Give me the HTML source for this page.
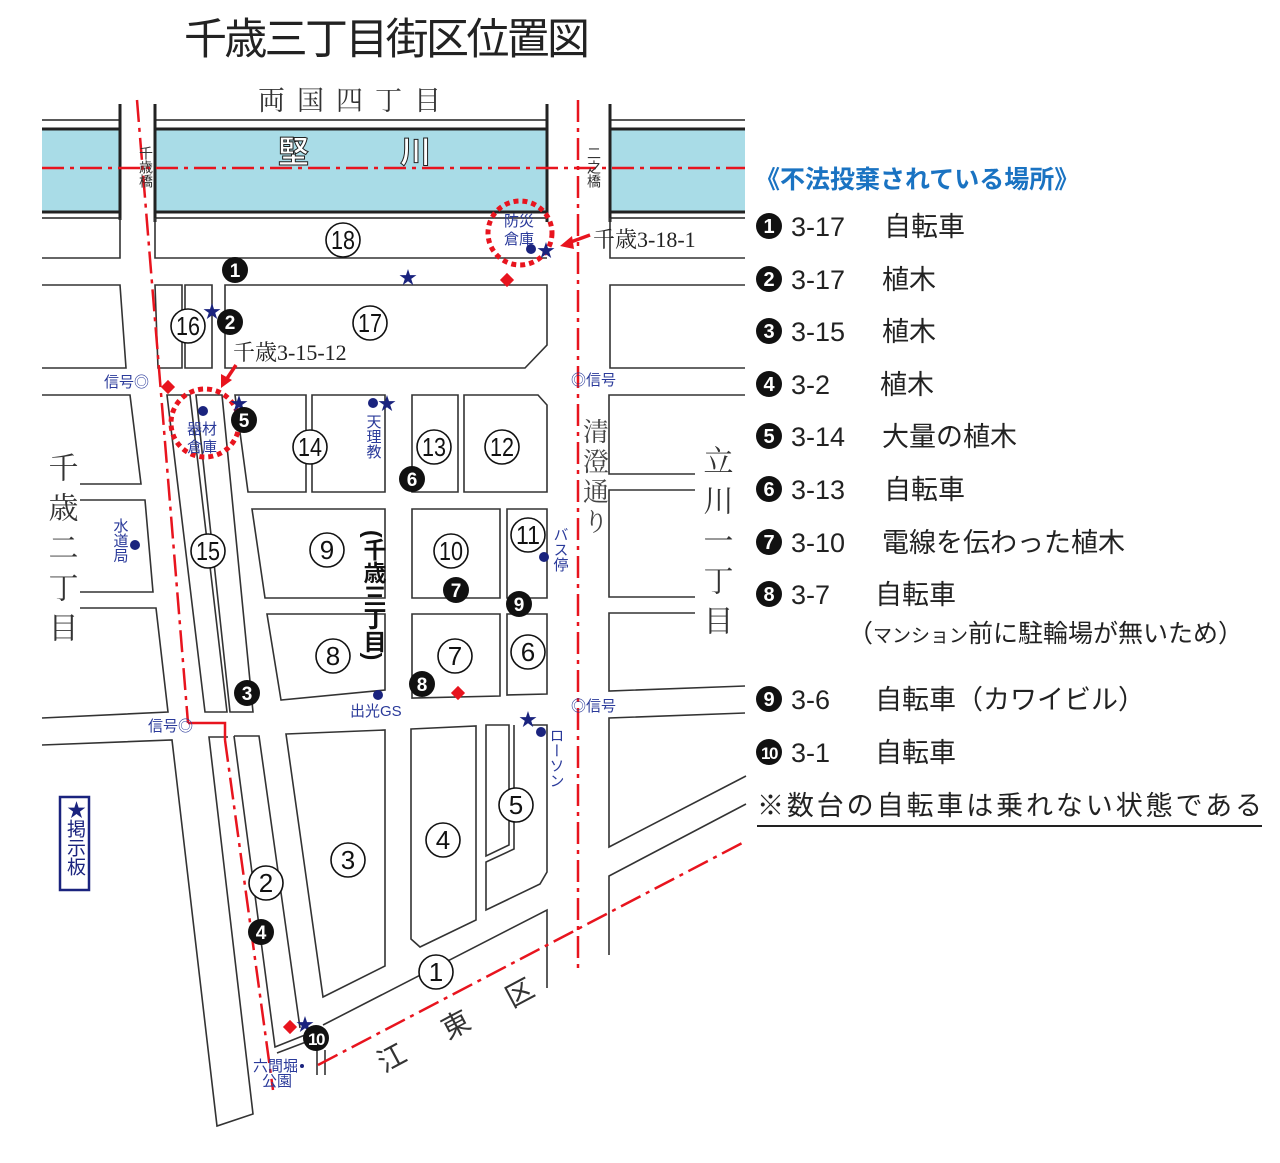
<!DOCTYPE html>
<html><head><meta charset="utf-8"><style>
html,body{margin:0;padding:0;background:#fff;}
svg{display:block;}
text{font-family:"Liberation Sans","Noto Sans CJK JP",sans-serif;}
.serif{font-family:"Liberation Serif","Noto Serif CJK SC",serif;}
.bl{fill:#2a3a9a;}
</style></head><body>
<svg width="1280" height="1163" viewBox="0 0 1280 1163" xmlns="http://www.w3.org/2000/svg">
<text x="184" y="54" font-size="43" fill="#222" textLength="406">千歳三丁目街区位置図</text>
<text x="258" y="110" font-size="27" fill="#333" class="serif" letter-spacing="12">両国四丁目</text>

<rect x="42" y="129" width="78" height="83" fill="#a9dce7"/>
<rect x="155" y="129" width="392" height="83" fill="#a9dce7"/>
<rect x="610" y="129" width="135" height="83" fill="#a9dce7"/>
<g stroke="#222" fill="none">
<g stroke-width="1.5">
<line x1="42" y1="120" x2="120" y2="120"/><line x1="155" y1="120" x2="547" y2="120"/><line x1="610" y1="120" x2="745" y2="120"/>
<line x1="42" y1="218" x2="120" y2="218"/><line x1="155" y1="218" x2="547" y2="218"/><line x1="610" y1="218" x2="745" y2="218"/>
</g>
<g stroke-width="3">
<line x1="42" y1="129" x2="120" y2="129"/><line x1="155" y1="129" x2="547" y2="129"/><line x1="610" y1="129" x2="745" y2="129"/>
<line x1="42" y1="212" x2="120" y2="212"/><line x1="155" y1="212" x2="547" y2="212"/><line x1="610" y1="212" x2="745" y2="212"/>
<line x1="120" y1="104" x2="120" y2="220"/><line x1="155" y1="104" x2="155" y2="222"/><line x1="547" y1="104" x2="547" y2="222"/><line x1="610" y1="104" x2="610" y2="222"/>
</g>
<g stroke-width="1.6" stroke="#333">
<polyline points="42,258 120,258 120,218"/>
<polyline points="155,218 155,258 547,258"/>
<polyline points="745,258 610,258 610,218"/>
<polyline points="42,285 120,285 126,368 42,368"/>
<polygon points="155,285 182,285 182,368 158,368"/>
<polygon points="185,285 212,285 212,368 185,368"/>
<polygon points="225,285 547,285 547,345 525,368 225,368"/>
<polyline points="745,285 610,285 610,368 745,368"/>
<polyline points="42,395 130,395 141,484 80,484"/>
<polyline points="80,500 145,500 153,592 80,592"/>
<polyline points="80,608 156,608 168,712 42,718"/>
<polygon points="167,395 190,395 227,712 205,712"/>
<polygon points="196,395 222,395 253,712 230,712"/>
<polygon points="235,395 306,395 306,492 248,492"/>
<polygon points="312,395 385,395 385,492 312,492"/>
<polygon points="412,395 458,395 458,492 412,492"/>
<polygon points="464,395 538,395 547,405 547,492 464,492"/>
<polyline points="745,395 609,395 609,474 695,474"/>
<polyline points="695,490 609,490 609,597 695,597"/>
<polyline points="695,613 609,613 609,691 745,686"/>
<polyline points="609,730 609,718 745,713"/>
<polygon points="252,509 385,509 385,598 265,598"/>
<polygon points="412,509 500,509 500,598 412,598"/>
<polygon points="507,509 547,509 547,598 507,598"/>
<polygon points="267,614 385,614 385,690 281,700"/>
<polygon points="412,614 500,614 500,696 412,698"/>
<polygon points="507,614 547,614 547,694 507,695"/>
<polyline points="42,745 172,740 217,1126 253,1114 209,737 228,737"/>
<polyline points="234,736 259,736 300,1028"/>
<polyline points="234,736 275,1047 305,1035"/>
<line x1="277" y1="1053" x2="306" y2="1042"/>
<polygon points="286,734 385,730 385,966 323,997"/>
<polygon points="411,729 476,726 476,920 420,947 411,939"/>
<polygon points="486,725 509,725 509,845 486,856"/>
<polyline points="514,725 514,849 486,862 486,910 540,884 547,872 547,725 532,725"/>
<polyline points="323,1025 547,910 547,988"/>
<line x1="317" y1="1050" x2="317" y2="1075"/><line x1="325" y1="1050" x2="325" y2="1075"/>
<polyline points="609,730 609,847 746,776"/>
<polyline points="609,955 609,876 746,804"/>
</g>
</g>

<g stroke="#e8141e" stroke-width="2.5" fill="none" stroke-dasharray="22,6,4,6">
<line x1="42" y1="168" x2="745" y2="168"/>
<polyline points="137,100 188,723"/>
<line x1="578" y1="100" x2="578" y2="972"/>
<polyline points="225,740 273,1090"/>
<line x1="318" y1="1065" x2="746" y2="841"/>
</g>
<polyline points="188,723 225,723 225,740" stroke="#e8141e" stroke-width="2.5" fill="none"/>

<text x="278" y="163" font-size="31" font-weight="bold" fill="#fff" stroke="#222" stroke-width="1">堅</text>
<text x="400" y="163" font-size="31" font-weight="bold" fill="#fff" stroke="#222" stroke-width="1">川</text>
<text x="146" y="146" font-size="14" fill="#333" style="writing-mode:vertical-rl">千歳橋</text>
<text x="594" y="146" font-size="14" fill="#333" style="writing-mode:vertical-rl">二之橋</text>

<text x="60" y="452" font-size="30" fill="#333" class="serif" style="writing-mode:vertical-rl" letter-spacing="10">千歳二丁目</text>
<text x="715" y="445" font-size="30" fill="#333" class="serif" style="writing-mode:vertical-rl" letter-spacing="10">立川一丁目</text>
<text x="594" y="418" font-size="26" fill="#444" class="serif" style="writing-mode:vertical-rl" letter-spacing="4">清澄通り</text>
<text x="373" y="530" font-size="23" font-weight="bold" fill="#111" style="writing-mode:vertical-rl">(千歳三丁目)</text>
<g font-size="28" fill="#333" class="serif">
<text transform="translate(384,1073) rotate(-28)">江</text>
<text transform="translate(448,1040) rotate(-28)">東</text>
<text transform="translate(512,1008) rotate(-28)">区</text>
</g>

<circle cx="520" cy="233" r="32" fill="none" stroke="#e8141e" stroke-width="5" stroke-dasharray="5,4"/>
<circle cx="205" cy="423" r="34" fill="none" stroke="#e8141e" stroke-width="5" stroke-dasharray="5,4"/>
<g stroke="#e8141e" stroke-width="3.5" fill="#e8141e">
<line x1="590" y1="235" x2="568" y2="243"/><polygon points="560,246 572,236 574,249" stroke="none"/>
<line x1="236" y1="365" x2="226" y2="380"/><polygon points="221,388 221,374 232,380" stroke="none"/>
</g>
<text x="593" y="247" font-size="22" fill="#222" class="serif">千歳3-18-1</text>
<text x="233" y="360" font-size="22" fill="#222" class="serif">千歳3-15-12</text>

<g class="bl" font-size="15">
<text x="504" y="226">防災</text><text x="504" y="244">倉庫</text>
<text x="187" y="434">器材</text><text x="187" y="452">倉庫</text>
<text x="104" y="387">信号◎</text>
<text x="571" y="385">◎信号</text>
<text x="571" y="711">◎信号</text>
<text x="148" y="731">信号◎</text>
<text x="350" y="716">出光GS</text>
<text x="253" y="1071">六間堀</text><text x="262" y="1086">公園</text>
<text x="120" y="518" style="writing-mode:vertical-rl">水道局</text>
<text x="373" y="414" style="writing-mode:vertical-rl">天理教</text>
<text x="560" y="527" style="writing-mode:vertical-rl">バス停</text>
<text x="556" y="728" style="writing-mode:vertical-rl">ローソン</text>
</g>
<g fill="#1a237e">
<circle cx="531" cy="249" r="5"/><circle cx="203" cy="411" r="5"/><circle cx="373" cy="403" r="5"/>
<circle cx="135" cy="545" r="5"/><circle cx="544" cy="557" r="5"/><circle cx="378" cy="695" r="5"/>
<circle cx="541" cy="732" r="5"/><circle cx="302" cy="1066" r="2"/>
</g>
<g fill="#1a237e" font-size="18">
<text x="399" y="284">★</text><text x="203" y="318">★</text><text x="537" y="257">★</text>
<text x="230" y="410">★</text><text x="378" y="410">★</text><text x="519" y="726">★</text><text x="296" y="1031">★</text>
</g>
<g fill="#e8141e">
<rect x="502" y="275" width="10" height="10" transform="rotate(45 507 280)"/>
<rect x="163" y="382" width="10" height="10" transform="rotate(45 168 387)"/>
<rect x="453" y="688" width="10" height="10" transform="rotate(45 458 693)"/>
<rect x="285" y="1022" width="10" height="10" transform="rotate(45 290 1027)"/>
</g>

<g font-size="26" text-anchor="middle" fill="#111" class="serif">
<g stroke="#111" stroke-width="1.6" fill="#fff">
<circle cx="343" cy="240" r="17"/><circle cx="370" cy="323" r="17"/><circle cx="188" cy="326" r="17"/>
<circle cx="310" cy="447" r="17"/><circle cx="434" cy="447" r="17"/><circle cx="502" cy="447" r="17"/>
<circle cx="208" cy="551" r="17"/><circle cx="327" cy="550" r="17"/><circle cx="451" cy="551" r="17"/>
<circle cx="528" cy="535" r="17"/><circle cx="333" cy="656" r="17"/><circle cx="455" cy="656" r="17"/>
<circle cx="528" cy="652" r="17"/><circle cx="516" cy="805" r="17"/><circle cx="443" cy="840" r="17"/>
<circle cx="348" cy="860" r="17"/><circle cx="266" cy="883" r="17"/><circle cx="436" cy="972" r="17"/>
</g>
<g lengthAdjust="spacingAndGlyphs">
<text x="343" y="249" textLength="24" lengthAdjust="spacingAndGlyphs">18</text>
<text x="370" y="332" textLength="24" lengthAdjust="spacingAndGlyphs">17</text>
<text x="188" y="335" textLength="24" lengthAdjust="spacingAndGlyphs">16</text>
<text x="310" y="456" textLength="24" lengthAdjust="spacingAndGlyphs">14</text>
<text x="434" y="456" textLength="24" lengthAdjust="spacingAndGlyphs">13</text>
<text x="502" y="456" textLength="24" lengthAdjust="spacingAndGlyphs">12</text>
<text x="208" y="560" textLength="24" lengthAdjust="spacingAndGlyphs">15</text>
<text x="451" y="560" textLength="24" lengthAdjust="spacingAndGlyphs">10</text>
<text x="528" y="544" textLength="24" lengthAdjust="spacingAndGlyphs">11</text>
</g>
<text x="327" y="559">9</text>
<text x="333" y="665">8</text><text x="455" y="665">7</text><text x="528" y="661">6</text>
<text x="516" y="814">5</text><text x="443" y="849">4</text><text x="348" y="869">3</text>
<text x="266" y="892">2</text><text x="436" y="981">1</text>
</g>

<g font-size="19" font-weight="bold" text-anchor="middle">
<g fill="#111">
<circle cx="235" cy="270" r="13"/><circle cx="230" cy="322" r="13"/><circle cx="244" cy="420" r="13"/>
<circle cx="412" cy="479" r="13"/><circle cx="456" cy="590" r="13"/><circle cx="519" cy="604" r="13"/>
<circle cx="422" cy="684" r="13"/><circle cx="247" cy="693" r="13"/><circle cx="261" cy="932" r="13"/>
<circle cx="316" cy="1038" r="13"/>
</g>
<g fill="#fff">
<text x="235" y="277">1</text><text x="230" y="329">2</text><text x="244" y="427">5</text>
<text x="412" y="486">6</text><text x="456" y="597">7</text><text x="519" y="611">9</text>
<text x="422" y="691">8</text><text x="247" y="700">3</text><text x="261" y="939">4</text>
<text x="316" y="1045" font-size="17" letter-spacing="-1.5">10</text>
</g>
</g>

<rect x="60" y="797" width="29" height="93" fill="#fff" stroke="#1a237e" stroke-width="2.5"/>
<text x="74.5" y="800" font-size="19" fill="#1a237e" style="writing-mode:vertical-rl">★掲示板</text>

<text x="755" y="188" font-size="25" font-weight="bold" fill="#1a73c2">《不法投棄されている場所》</text>
<g font-size="27" fill="#222">
<g fill="#111">
<circle cx="769" cy="226" r="13"/><circle cx="769" cy="279" r="13"/><circle cx="769" cy="331" r="13"/>
<circle cx="769" cy="384" r="13"/><circle cx="769" cy="436" r="13"/><circle cx="769" cy="489" r="13"/>
<circle cx="769" cy="542" r="13"/><circle cx="769" cy="594" r="13"/><circle cx="769" cy="699" r="13"/>
<circle cx="769" cy="752" r="13"/>
</g>
<g fill="#fff" font-size="20" font-weight="bold" text-anchor="middle">
<text x="769" y="233">1</text><text x="769" y="286">2</text><text x="769" y="338">3</text>
<text x="769" y="391">4</text><text x="769" y="443">5</text><text x="769" y="496">6</text>
<text x="769" y="549">7</text><text x="769" y="601">8</text><text x="769" y="706">9</text>
<text x="769" y="759" font-size="17" letter-spacing="-1.5">10</text>
</g>
<text x="791" y="236">3-17</text><text x="884" y="236">自転車</text>
<text x="791" y="289">3-17</text><text x="882" y="289">植木</text>
<text x="791" y="341">3-15</text><text x="882" y="341">植木</text>
<text x="791" y="394">3-2</text><text x="880" y="394">植木</text>
<text x="791" y="446">3-14</text><text x="882" y="446">大量の植木</text>
<text x="791" y="499">3-13</text><text x="884" y="499">自転車</text>
<text x="791" y="552">3-10</text><text x="882" y="552">電線を伝わった植木</text>
<text x="791" y="604">3-7</text><text x="875" y="604">自転車</text>
<text x="848" y="642" font-size="25">（<tspan font-size="19">マンション</tspan>前に駐輪場が無いため）</text>
<text x="791" y="709">3-6</text><text x="875" y="709">自転車（カワイビル）</text>
<text x="791" y="762">3-1</text><text x="875" y="762">自転車</text>
<text x="757" y="815" textLength="505">※数台の自転車は乗れない状態である</text>
</g>
<line x1="757" y1="826" x2="1262" y2="826" stroke="#222" stroke-width="2"/>
</svg>
</body></html>
